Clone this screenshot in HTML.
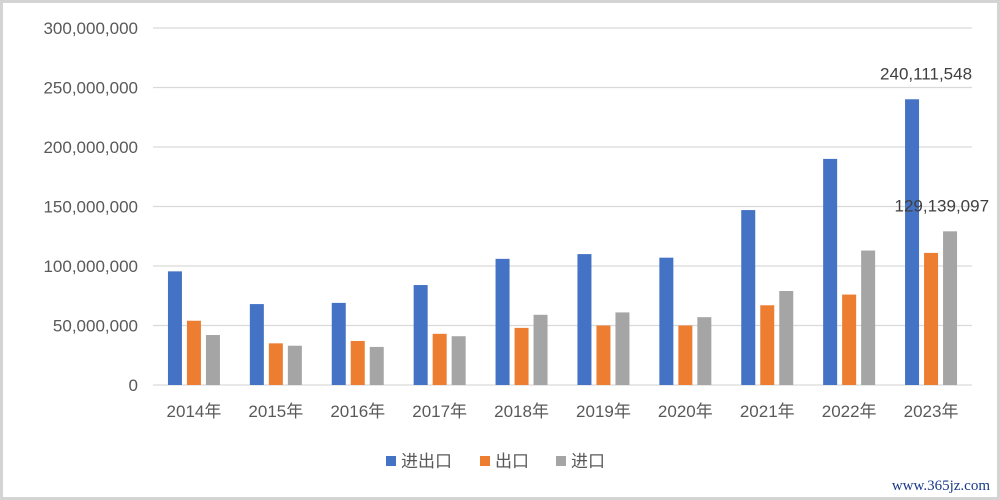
<!DOCTYPE html>
<html><head><meta charset="utf-8"><style>
html,body{margin:0;padding:0;background:#fff;}
svg{display:block;font-family:"Liberation Sans","Noto Sans CJK SC",sans-serif;}
</style></head><body>
<svg id="chart" width="1000" height="500" viewBox="0 0 1000 500" xmlns="http://www.w3.org/2000/svg">
<rect x="1.5" y="1.5" width="997" height="497" fill="#fff" stroke="#d4d4d4" stroke-width="3"/>
<g id="grid"></g>
<g id="yticks"></g>
<g id="bars"></g>
<g id="xticks"></g>
<g id="labels"></g>
<g>
<g><rect x="386" y="456" width="10" height="10" fill="#4472c4"/><text x="401" y="467" font-size="17" fill="#595959">进出口</text></g>
<g><rect x="480" y="456" width="10" height="10" fill="#ed7d31"/><text x="495" y="467" font-size="17" fill="#595959">出口</text></g>
<g><rect x="556" y="456" width="10" height="10" fill="#a5a5a5"/><text x="571" y="467" font-size="17" fill="#595959">进口</text></g>
</g>
<text x="990" y="490" text-anchor="end" font-size="15" fill="#1a3a8a" font-family="Liberation Serif,serif">www.365jz.com</text>
</svg>
<script>
const categories=["2014年","2015年","2016年","2017年","2018年","2019年","2020年","2021年","2022年","2023年"];
const totalValues=[95.5,68,69,84,106,110,107,147,190,240.111548];
const exportValues=[54,35,37,43,48,50,50,67,76,111];
const importValues=[42,33,32,41,59,61,57,79,113,129.139097];
const yTicks=[0,50,100,150,200,250,300];
const yTickLabels=["0","50,000,000","100,000,000","150,000,000","200,000,000","250,000,000","300,000,000"];
const NS="http://www.w3.org/2000/svg";
const L=153,R=972,Y0=385,Ytop=28;
const y=v=>Y0-(v/300)*(Y0-Ytop);
const bw=(R-L)/categories.length;
const xc=i=>L+bw*(i+0.5);
function mk(t,a,p){const e=document.createElementNS(NS,t);for(const k in a)e.setAttribute(k,a[k]);p.appendChild(e);return e;}
const grid=document.getElementById('grid'),yt=document.getElementById('yticks');
yTicks.forEach((v,i)=>{
 const l=mk('line',{x1:L,x2:R,y1:y(v),y2:y(v),stroke:'#d9d9d9','stroke-width':1.3},grid);
 
 
 const t=mk('text',{x:138,y:y(v)+6,'text-anchor':'end','font-size':17,fill:'#595959'},yt);
 t.textContent=yTickLabels[i];
 
 
});
const bars=document.getElementById('bars'),xt=document.getElementById('xticks');
const series=[[totalValues,'#4472c4','total',-19],[exportValues,'#ed7d31','export',0],[importValues,'#a5a5a5','import',19]];
categories.forEach((c,i)=>{
 series.forEach(s=>{
  const v=s[0][i];
  const r=mk('rect',{x:xc(i)+s[3]-7,y:y(v),width:14,height:Y0-y(v),fill:s[1]},bars);
  
  
 });
 const t=mk('text',{x:xc(i),y:417,'text-anchor':'middle','font-size':17,fill:'#595959'},xt);
 t.textContent=c;
 
 
});
const lab=document.getElementById('labels');
const last=categories.length-1;
const fmt=v=>Math.round(v*1e6).toLocaleString('en-US');
const l1=mk('text',{x:xc(last)+41,y:y(totalValues[last])-20,'text-anchor':'end','font-size':17,fill:'#404040'},lab);
l1.textContent=fmt(totalValues[last]);


const l2=mk('text',{x:xc(last)+58,y:y(importValues[last])-20,'text-anchor':'end','font-size':17,fill:'#404040'},lab);
l2.textContent=fmt(importValues[last]);


</script>
</body></html>
